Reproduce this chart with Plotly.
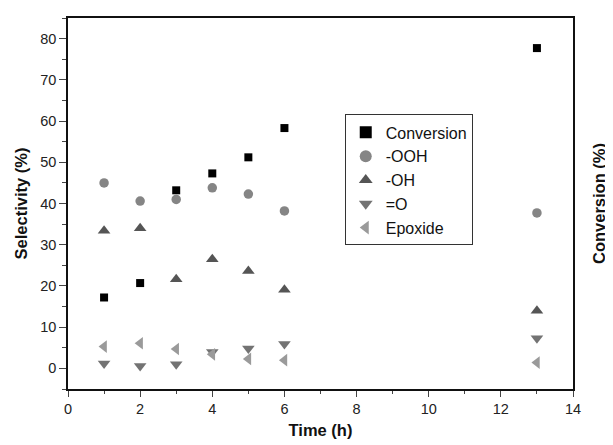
import plotly.graph_objects as go

time_h = [1, 2, 3, 4, 5, 6, 13]
conversion = [17.2, 20.7, 43.2, 47.3, 51.2, 58.3, 77.7]
ooh = [45.0, 40.6, 41.0, 43.8, 42.3, 38.2, 37.7]
oh = [33.4, 34.0, 21.6, 26.5, 23.6, 19.1, 14.0]
ketone = [1.2, 0.6, 1.0, 4.0, 4.8, 5.9, 7.3]
epoxide = [5.3, 6.1, 4.7, 3.4, 2.3, 2.0, 1.4]

x_ticks = [0, 2, 4, 6, 8, 10, 12, 14]
y_ticks = [0, 10, 20, 30, 40, 50, 60, 70, 80]

fig = go.Figure()
fig.add_trace(go.Scatter(x=time_h, y=conversion, name="Conversion", mode="markers",
                         marker=dict(symbol="square", size=8, color="#000000"), yaxis="y2"))
fig.add_trace(go.Scatter(x=time_h, y=ooh, name="-OOH", mode="markers",
                         marker=dict(symbol="circle", size=9.5, color="#858585")))
fig.add_trace(go.Scatter(x=time_h, y=oh, name="-OH", mode="markers",
                         marker=dict(symbol="triangle-up", size=11, color="#555555")))
fig.add_trace(go.Scatter(x=time_h, y=ketone, name="=O", mode="markers",
                         marker=dict(symbol="triangle-down", size=11, color="#737373")))
fig.add_trace(go.Scatter(x=time_h, y=epoxide, name="Epoxide", mode="markers",
                         marker=dict(symbol="triangle-left", size=11, color="#9a9a9a")))

axis_font = dict(family="Arial, Liberation Sans, sans-serif", size=14.5, color="#222222")
title_font = dict(family="Arial, Liberation Sans, sans-serif", size=16.5, color="#111111")

fig.update_layout(
    width=605, height=437,
    margin=dict(l=60, r=40, t=8, b=55),
    plot_bgcolor="white", paper_bgcolor="white",
    showlegend=True,
    legend=dict(x=0.548, y=0.74, xanchor="left", yanchor="top",
                bordercolor="#333333", borderwidth=1, bgcolor="white",
                font=dict(family="Arial, Liberation Sans, sans-serif", size=16, color="#111111"),
                itemsizing="constant", tracegroupgap=0),
    xaxis=dict(range=[0, 14], tickvals=x_ticks, ticks="outside", ticklen=6,
               showline=True, linecolor="#111111", linewidth=1.5, mirror=True,
               showgrid=False, zeroline=False, tickfont=axis_font,
               title=dict(text="<b>Time (h)</b>", font=title_font, standoff=8),
               minor=dict(ticks="outside", ticklen=3, dtick=1)),
    yaxis=dict(range=[-5, 85], tickvals=y_ticks, ticks="outside", ticklen=7,
               showline=True, linecolor="#111111", linewidth=1.5,
               showgrid=False, zeroline=False, tickfont=axis_font,
               title=dict(text="<b>Selectivity (%)</b>", font=title_font, standoff=8),
               minor=dict(ticks="outside", ticklen=4, dtick=5, tick0=0)),
    yaxis2=dict(range=[-5, 85], overlaying="y", side="right", showticklabels=False,
                ticks="", showline=True, linecolor="#111111", linewidth=1.5,
                showgrid=False, zeroline=False,
                title=dict(text="<b>Conversion (%)</b>", font=title_font, standoff=20)),
)

fig.write_html("out.html")
